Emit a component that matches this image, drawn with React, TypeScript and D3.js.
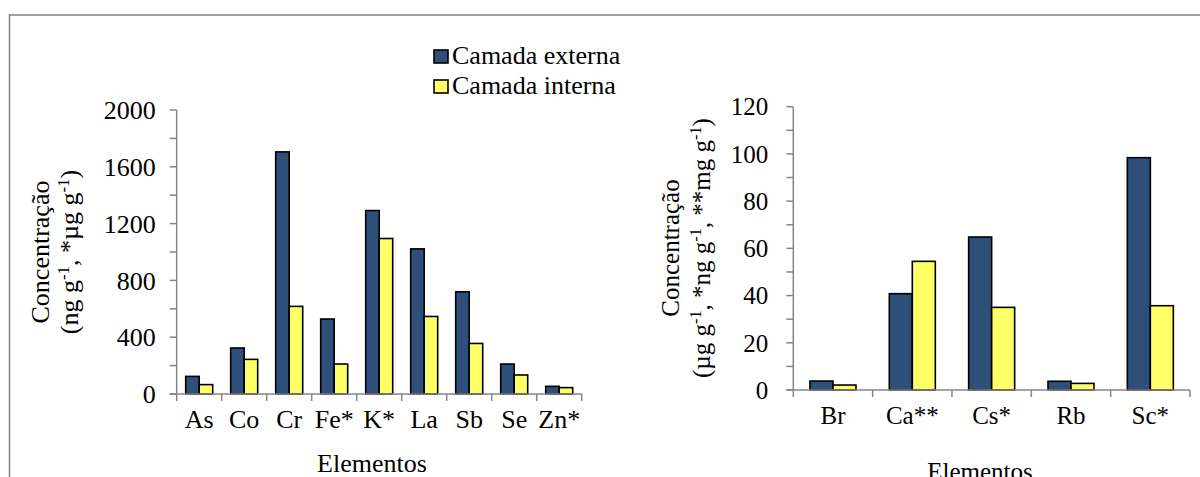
import React from 'react';
import * as d3 from 'd3';

// series
const series = ['Camada externa', 'Camada interna'];
const colors = ['#2F4F7B', '#FFFF66'];

// left chart: ng g-1, *µg g-1
const leftCats = ['As', 'Co', 'Cr', 'Fe*', 'K*', 'La', 'Sb', 'Se', 'Zn*'];
const leftExterna = [124, 324, 1705, 528, 1292, 1022, 720, 211, 54];
const leftInterna = [66, 244, 617, 211, 1095, 546, 356, 134, 45];
const leftTicks = [0, 400, 800, 1200, 1600, 2000];

// right chart: µg g-1, *ng g-1, **mg g-1
const rightCats = ['Br', 'Ca**', 'Cs*', 'Rb', 'Sc*'];
const rightExterna = [3.8, 40.8, 64.8, 3.7, 98.4];
const rightInterna = [2.1, 54.5, 35.0, 2.8, 35.7];
const rightTicks = [0, 20, 40, 60, 80, 100, 120];

const FONT = '"Liberation Serif", "Times New Roman", serif';
const AXIS = '#868686';

const Sup = ({ children }) => (
  <tspan baselineShift="super" fontSize="0.65em">{children}</tspan>
);

const T = (props) => <text fontFamily={FONT} fill="#000" {...props} />;

const Panel = ({ cats, values, yMax, ticks, minorStep, x0, x1, yTop, yBottom, groupFrac, fontSize, tickLabelGap }) => {
  const x = d3.scaleBand().domain(cats).range([x0, x1]).padding(0);
  const bw = x.bandwidth();
  const pad = (1 - groupFrac) / 2;
  const xs = d3.scaleBand().domain(series).range([bw * pad, bw * (1 - pad)]).padding(0);
  const y = d3.scaleLinear().domain([0, yMax]).range([yBottom, yTop]);
  const minor = d3.range(0, yMax + minorStep / 2, minorStep);
  const bounds = cats.map((c) => x(c)).concat([x1]);

  return (
    <g>
      {/* bars */}
      {cats.map((c, i) => (
        <g key={c} transform={`translate(${x(c)},0)`}>
          {series.map((s, j) => (
            <rect
              key={s}
              x={xs(s)}
              y={y(values[j][i])}
              width={xs.bandwidth()}
              height={yBottom - y(values[j][i])}
              fill={colors[j]}
              stroke="#000"
              strokeWidth={1.6}
            />
          ))}
        </g>
      ))}
      {/* y axis */}
      <line x1={x0} x2={x0} y1={yTop} y2={yBottom} stroke={AXIS} strokeWidth={1.5} />
      {minor.map((t) => (
        <line key={t} x1={x0 - 7} x2={x0} y1={y(t)} y2={y(t)} stroke={AXIS} strokeWidth={1.5} />
      ))}
      {ticks.map((t) => (
        <T key={t} x={x0 - tickLabelGap} y={y(t)} dy="0.35em" textAnchor="end" fontSize={fontSize}>
          {t}
        </T>
      ))}
      {/* x axis */}
      <line x1={x0 - 7} x2={x1} y1={yBottom} y2={yBottom} stroke={AXIS} strokeWidth={1.5} />
      {bounds.map((b, i) => (
        <line key={i} x1={b} x2={b} y1={yBottom} y2={yBottom + 7} stroke={AXIS} strokeWidth={1.5} />
      ))}
      {cats.map((c) => (
        <T key={c} x={x(c) + bw / 2} y={yBottom + 34} textAnchor="middle" fontSize={fontSize}>
          {c}
        </T>
      ))}
    </g>
  );
};

export default function App() {
  const W = 1200;
  const H = 477;
  return (
    <svg
      width={W}
      height={H}
      style={{ position: 'fixed', left: 0, top: 0, background: '#fff', fontFamily: FONT }}
    >
      <rect x={0} y={0} width={W} height={H} fill="#fff" />
      {/* frame */}
      <polyline points={`9.5,${H} 9.5,15 ${W},15`} fill="none" stroke="#808080" strokeWidth={1.5} />

      {/* legend */}
      {series.map((s, j) => (
        <g key={s} transform={`translate(434,${50 + j * 30})`}>
          <rect x={0} y={0} width={14} height={13} fill={colors[j]} stroke="#000" strokeWidth={1.6} />
          <T x={18} y={14} fontSize={26}>{s}</T>
        </g>
      ))}

      {/* left chart */}
      <Panel
        cats={leftCats}
        values={[leftExterna, leftInterna]}
        yMax={2000}
        ticks={leftTicks}
        minorStep={200}
        x0={176.7}
        x1={581.7}
        yTop={110}
        yBottom={394}
        groupFrac={0.6}
        fontSize={26}
        tickLabelGap={21}
      />
      <T transform="translate(40,252) rotate(-90)" textAnchor="middle" dy="0.35em" fontSize={26}>
        Concentração
      </T>
      <T transform="translate(69,252) rotate(-90)" textAnchor="middle" dy="0.35em" fontSize={26}>
        (ng g<Sup>-1</Sup>, *µg g<Sup>-1</Sup>)
      </T>
      <T x={372} y={472} textAnchor="middle" fontSize={26}>Elementos</T>

      {/* right chart */}
      <Panel
        cats={rightCats}
        values={[rightExterna, rightInterna]}
        yMax={120}
        ticks={rightTicks}
        minorStep={10}
        x0={793.3}
        x1={1190}
        yTop={106.7}
        yBottom={390}
        groupFrac={0.58}
        fontSize={25}
        tickLabelGap={25}
      />
      <T transform="translate(670,248) rotate(-90)" textAnchor="middle" dy="0.35em" fontSize={25}>
        Concentração
      </T>
      <T transform="translate(701,248) rotate(-90)" textAnchor="middle" dy="0.35em" fontSize={25}>
        (µg g<Sup>-1</Sup>, *ng g<Sup>-1</Sup>, **mg g<Sup>-1</Sup>)
      </T>
      <T x={980} y={480} textAnchor="middle" fontSize={25}>Elementos</T>
    </svg>
  );
}
